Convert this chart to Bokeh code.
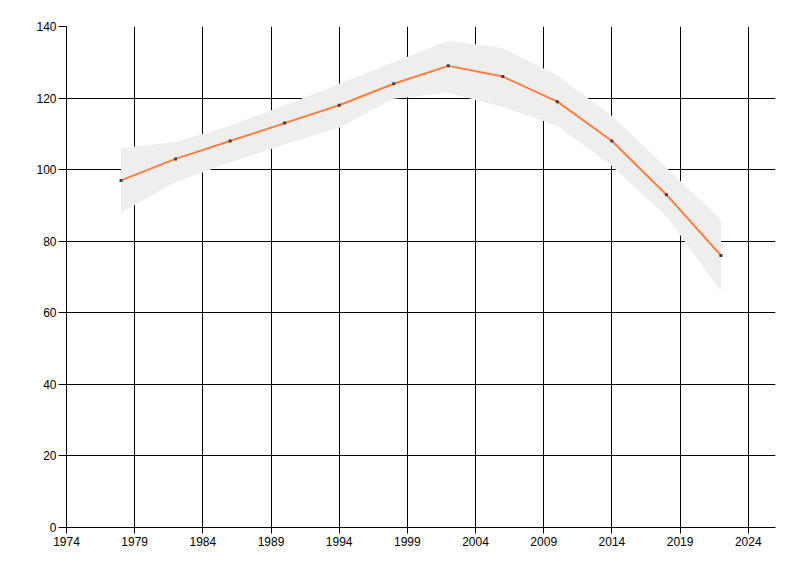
from bokeh.plotting import figure
from bokeh.models import Range1d, FixedTicker, ColumnDataSource
from bokeh.embed import file_html
from bokeh.resources import INLINE

# Data
years = [1978, 1982, 1986, 1990, 1994, 1998, 2002, 2006, 2010, 2014, 2018, 2022]
values = [97, 103, 108, 113, 118, 124, 129, 126, 119, 108, 93, 76]
upper = [106, 107.7, 112.3, 118, 124, 130, 136, 134, 126.3, 115, 100.5, 86]
lower = [88, 96.5, 102, 107, 111.7, 119.8, 121.5, 117.5, 112.3, 101, 87, 66]

x_ticks = [1974, 1979, 1984, 1989, 1994, 1999, 2004, 2009, 2014, 2019, 2024]
y_ticks = [0, 20, 40, 60, 80, 100, 120, 140]

src = ColumnDataSource(dict(x=years, y=values, up=upper, lo=lower))

p = figure(width=784, height=560, output_backend="svg", toolbar_location=None,
           x_range=Range1d(1974, 2026), y_range=Range1d(0, 140),
           min_border_left=66, min_border_right=9, min_border_top=26, min_border_bottom=33)
p.outline_line_color = None
p.background_fill_color = "white"
p.border_fill_color = "white"

p.varea(x="x", y1="lo", y2="up", source=src, fill_color="#EEEEEE")
p.line(x="x", y="y", source=src, line_color="#FF7F3F", line_width=2)
p.scatter(x="x", y="y", source=src, marker="square", size=3, fill_color="#404040", line_color=None)

for ax in (p.xaxis[0], p.yaxis[0]):
    ax.axis_line_color = "black"
    ax.major_tick_line_color = "black"
    ax.minor_tick_line_color = None
    ax.major_tick_in = 0
    ax.major_label_text_font = "Liberation Sans"
    ax.major_label_text_font_size = "12px"
    ax.major_label_text_color = "black"

p.xaxis[0].ticker = FixedTicker(ticks=x_ticks)
p.yaxis[0].ticker = FixedTicker(ticks=y_ticks)
p.xaxis[0].major_tick_out = 6
p.yaxis[0].major_tick_out = 8
p.xaxis[0].major_label_standoff = 3
p.yaxis[0].major_label_standoff = 2

for g in (p.xgrid[0], p.ygrid[0]):
    g.grid_line_color = "black"
    g.grid_line_alpha = 1.0
    g.grid_line_width = 1

open("out.html", "w").write(file_html(p, INLINE))
